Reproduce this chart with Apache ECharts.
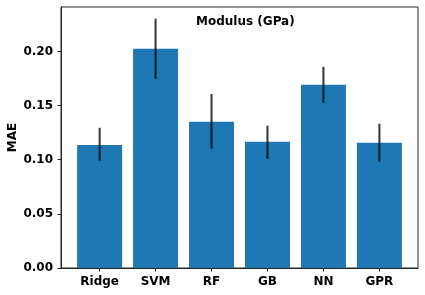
<!DOCTYPE html>
<html>
<head>
<meta charset="utf-8">
<script src="https://cdn.jsdelivr.net/npm/echarts@6/dist/echarts.min.js"></script>
<style>
html,body{margin:0;padding:0;background:#fff;}
#chart{width:425px;height:295px;}
</style>
</head>
<body>
<div id="chart"></div>
<script>
const categories = ['Ridge', 'SVM', 'RF', 'GB', 'NN', 'GPR'];
const maeValues = [0.1135, 0.2025, 0.1351, 0.1166, 0.1692, 0.1157];
const errLow = [0.0991, 0.1748, 0.1102, 0.1009, 0.1526, 0.0982];
const errHigh = [0.1295, 0.2302, 0.1606, 0.1314, 0.1858, 0.1332];
const yTicks = [0, 0.05, 0.10, 0.15, 0.20];

const FONT = 'DejaVu Sans';
const FS = 12;
const chart = echarts.init(document.getElementById('chart'), null, {renderer: 'canvas'});

const barData = categories.map((c, i) => [i, maeValues[i]]);
const errData = categories.map((c, i) => [i, errLow[i], errHigh[i]]);

chart.setOption({
  animation: false,
  backgroundColor: '#fff',
  title: {
    text: 'Modulus (GPa)',
    left: 191, top: 11,
    textStyle: {fontFamily: FONT, fontWeight: 'bold', fontSize: FS, color: '#000'}
  },
  grid: {left: 61, right: 7, top: 7, bottom: 27, containLabel: false, outerBoundsMode: 'none',
         show: true, borderColor: '#262626', borderWidth: 1, backgroundColor: 'transparent'},
  xAxis: {
    type: 'value', min: -0.69, max: 5.69,
    splitLine: {show: false},
    axisLine: {show: true, onZero: false, lineStyle: {color: '#262626'}},
    axisTick: {show: true, length: 3.5, customValues: categories.map((c, i) => i), lineStyle: {color: '#262626'}},
    axisLabel: {
      customValues: categories.map((c, i) => i),
      formatter: v => categories[Math.round(v)] || '',
      fontFamily: FONT, fontWeight: 'bold', fontSize: FS, color: '#000', margin: 8
    }
  },
  yAxis: {
    type: 'value', min: 0, max: 0.241,
    splitLine: {show: false},
    name: 'MAE', nameLocation: 'middle', nameGap: 42, nameMoveOverlap: false,
    nameTextStyle: {fontFamily: FONT, fontWeight: 'bold', fontSize: FS, color: '#000'},
    axisLine: {show: true, onZero: false, lineStyle: {color: '#262626'}},
    axisTick: {show: true, length: 3.5, customValues: yTicks, lineStyle: {color: '#262626'}},
    axisLabel: {
      customValues: yTicks,
      formatter: v => v.toFixed(2),
      fontFamily: FONT, fontWeight: 'bold', fontSize: FS, color: '#000', margin: 8
    }
  },
  series: [
    {
      type: 'bar', data: barData, barWidth: 45,
      itemStyle: {color: '#1f77b4'}
    },
    {
      type: 'custom', data: errData, z: 10,
      renderItem: function (params, api) {
        const x = api.value(0);
        const p1 = api.coord([x, api.value(1)]);
        const p2 = api.coord([x, api.value(2)]);
        return {
          type: 'line',
          shape: {x1: p1[0], y1: p1[1], x2: p2[0], y2: p2[1]},
          style: {stroke: 'rgba(0,0,0,0.8)', lineWidth: 2}
        };
      }
    }
  ]
});
</script>
</body>
</html>
